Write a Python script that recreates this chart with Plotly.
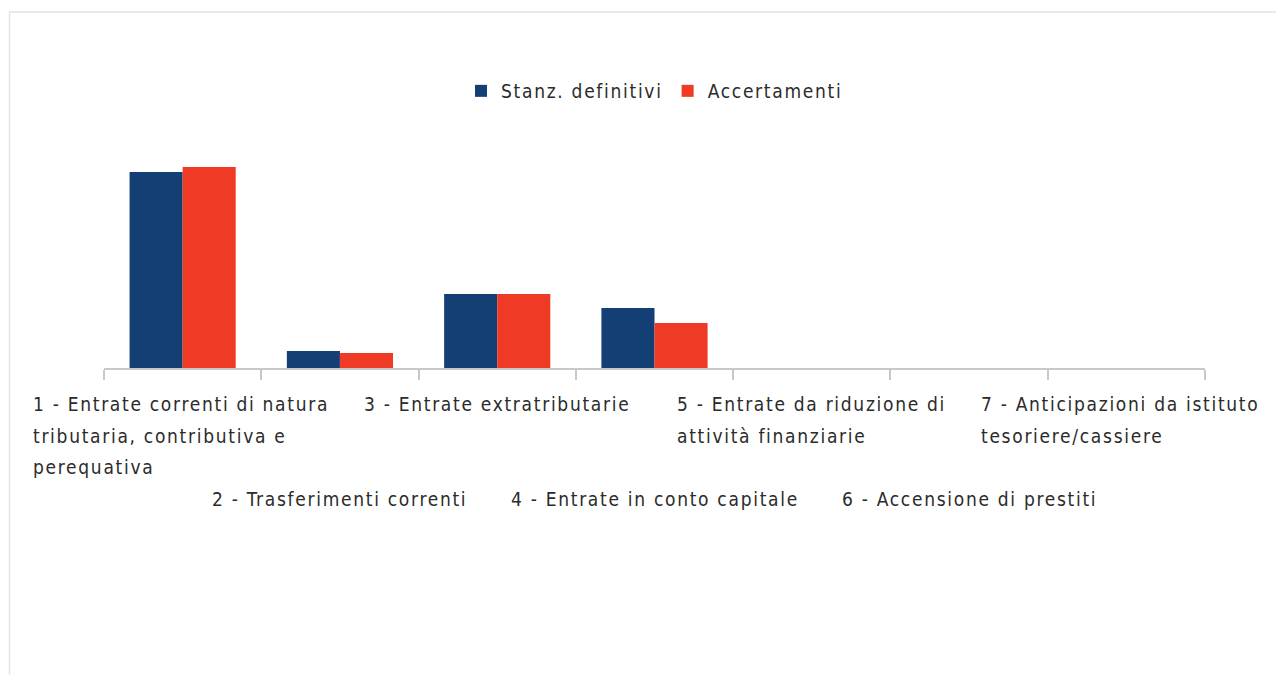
import plotly.graph_objects as go

# categorie del rendiconto (entrate per titolo)
categorie = [
    "1 - Entrate correnti di natura<br>tributaria, contributiva e<br>perequativa",
    "2 - Trasferimenti correnti",
    "3 - Entrate extratributarie",
    "4 - Entrate in conto capitale",
    "5 - Entrate da riduzione di<br>attività finanziarie",
    "6 - Accensione di prestiti",
    "7 - Anticipazioni da istituto<br>tesoriere/cassiere",
]
stanz_definitivi = [196, 17, 74, 60, 0, 0, 0]
accertamenti = [201, 15, 74, 45, 0, 0, 0]

BLU = "#133f74"
ROSSO = "#ef3a25"
TESTO = "#2b2b2b"
FONT = "DejaVu Sans Condensed, DejaVu Sans, sans-serif"
SPAZIO = '<span style="letter-spacing:1.7px">{}</span>'


def spaziato(t):
    return SPAZIO.format(t)


fig = go.Figure()
fig.add_trace(go.Bar(x=categorie, y=stanz_definitivi, name=spaziato("Stanz. definitivi"),
                     marker=dict(color=BLU, line=dict(width=0))))
fig.add_trace(go.Bar(x=categorie, y=accertamenti, name=spaziato("Accertamenti"),
                     marker=dict(color=ROSSO, line=dict(width=0))))

# etichette sfalsate su due file, una riga per annotazione (interlinea larga)
passo = 31.5
for i, cat in enumerate(categorie):
    righe = cat.split("<br>")
    inizio = 0 if i % 2 == 0 else 3
    larghezza = 10 * max(len(r) for r in righe)  # box comune -> righe allineate a sinistra
    for j, r in enumerate(righe):
        g = inizio + j
        fig.add_annotation(x=cat, xref="x", y=0, yref="paper",
                           yanchor="top", xanchor="center", align="left",
                           width=larghezza if len(righe) > 1 else None,
                           text=spaziato(r), showarrow=False,
                           yshift=-(23 + g * passo),
                           font=dict(family=FONT, size=19, color=TESTO))

# cornice grigia chiara
fig.add_shape(type="rect", xref="paper", yref="paper",
              x0=-0.0858, x1=1.2, y0=-1.4, y1=1.424,
              line=dict(color="#e4e4e4", width=1.5), fillcolor="rgba(0,0,0,0)")

fig.update_layout(
    width=1268, height=667,
    margin=dict(l=96, r=71, t=110, b=307),
    paper_bgcolor="white", plot_bgcolor="white",
    barmode="group", bargap=0.325, bargroupgap=0,
    font=dict(family=FONT, size=19, color=TESTO),
    showlegend=True,
    legend=dict(orientation="h", x=0.5, xanchor="center", y=1.108, yanchor="middle",
                font=dict(family=FONT, size=19, color=TESTO), itemwidth=30,
                traceorder="normal"),
)
fig.update_xaxes(showticklabels=False, showline=True, linecolor="#c8c8cc", linewidth=1.5,
                 ticks="outside", tickson="boundaries", ticklen=10, tickcolor="#c8c8cc",
                 tickwidth=1.5, showgrid=False, zeroline=False, range=[-0.5, 6.5])
fig.update_yaxes(visible=False, range=[0, 250], showgrid=False)

fig.write_html("out.html")
